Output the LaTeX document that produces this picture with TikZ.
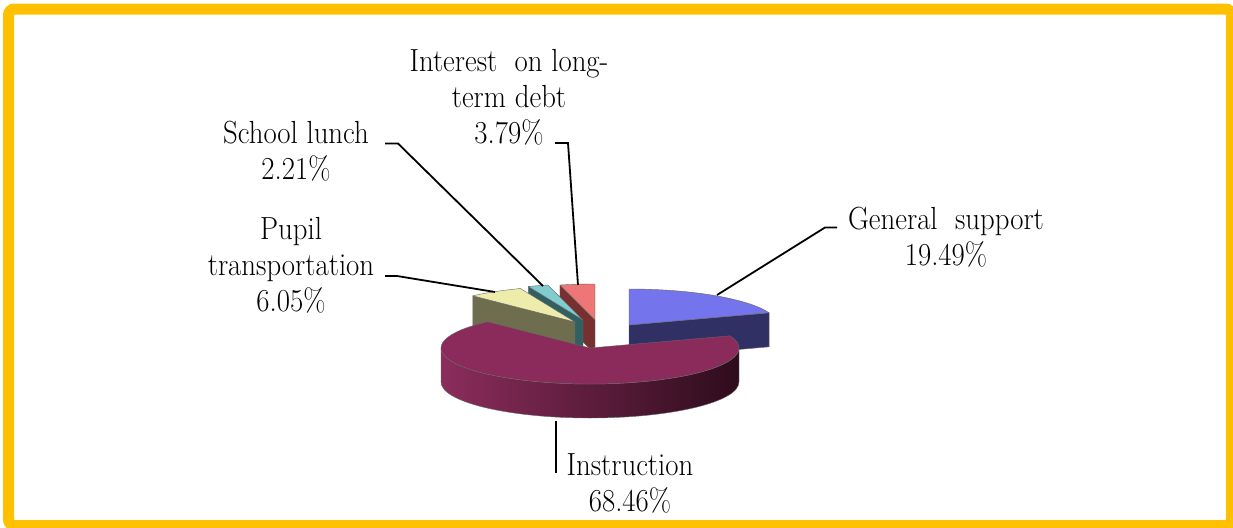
\documentclass[tikz,border=0pt]{standalone}
\usepackage{fontspec}
\setmainfont{Latin Modern Roman}[FakeStretch=0.9]
\usepackage{xcolor}
\usepackage{tikz}
\usetikzlibrary{positioning}
\definecolor{frameorange}{RGB}{255,192,0}
\definecolor{gstop}{RGB}{116,116,236}
\definecolor{gsside}{RGB}{48,48,100}
\definecolor{intop}{RGB}{139,43,91}
\definecolor{inleft}{RGB}{139,45,92}
\definecolor{inmid}{RGB}{112,36,74}
\definecolor{inright}{RGB}{46,12,28}
\definecolor{putop}{RGB}{238,236,170}
\definecolor{puside}{RGB}{110,110,78}
\definecolor{sltop}{RGB}{128,204,206}
\definecolor{slside}{RGB}{48,96,98}
\definecolor{iltop}{RGB}{238,118,118}
\definecolor{ilside}{RGB}{118,48,48}

\begin{document}
\begin{tikzpicture}[x=0.5pt, y=0.5pt,
  lbl/.style={align=center, inner sep=0pt, font=\rmfamily\fontsize{16}{18}\selectfont},
  leader/.style={draw=black, line width=0.9pt},
  slice/.style={draw=black!60, line width=0.2pt, line join=round},
  rim/.style={x radius=149, y radius=36}]

\useasboundingbox (0,0) rectangle (1233,527);
\clip (0,0) rectangle (1233,527);
\draw[frameorange, line width=5.5pt, rounded corners=3pt] (8.5,1.5) rectangle (1231.5,518);

\path[slice, fill=gsside] (629,202) -- ++(19.8:149 and 36) -- ++(0,-34) -- (629,168) -- cycle;
\path[slice, fill=gstop] (629,202) -- ++(90:149 and 36) arc[start angle=90, end angle=19.8, rim] -- cycle;

\path[slice, fill=ilside] (595,207) -- ++(103.6:149 and 36) -- ++(0,-34) -- (595,173) -- cycle;
\path[slice, fill=iltop] (595,207) -- ++(103.6:149 and 36) arc[start angle=103.6, end angle=90, rim] -- cycle;

\path[slice, fill=slside] (583,207) -- ++(111.5:149 and 36) -- ++(0,-34) -- (583,173) -- cycle;
\path[slice, fill=sltop] (583,207) -- ++(111.5:149 and 36) arc[start angle=111.5, end angle=103.6, rim] -- cycle;

\path[slice, fill=puside] (575,205) -- ++(133.3:149 and 36) -- ++(0,-34) -- (575,171) -- cycle;
\path[slice, fill=putop] (575,205) -- ++(133.3:149 and 36) arc[start angle=133.3, end angle=111.5, rim] -- cycle;

\shadedraw[slice, left color=inleft, middle color=inmid, right color=inright] (441,179) arc[start angle=180, end angle=360, rim] -- ++(0,-34) arc[start angle=360, end angle=180, rim] -- cycle;
\path[slice, fill=intop] (590,179) -- ++(19.8:149 and 36) arc[start angle=19.8, end angle=-226.7, rim] -- cycle;

\coordinate (gsTip) at (717,232);
\coordinate (ilTip) at (578,242);
\coordinate (slTip) at (543,241);
\coordinate (puTip) at (495,235);
\coordinate (inTip) at (556,106);

\node[lbl] at (946,289.5) (gsLbl) {General~~support\\19.49\%};
\node[lbl] at (509,430) (ilLbl) {Interest~~on long-\\term debt\\3.79\%};
\node[lbl] at (296,375.5) (slLbl) {School lunch\\2.21\%};
\node[lbl] at (291,262) (puLbl) {Pupil\\transportation\\6.05\%};
\node[lbl] at (630,43.5) (inLbl) {Instruction\\68.46\%};

\draw[leader] ([shift={(-109,10)}]gsLbl.center) -- ++(-12,0) -- (gsTip);
\draw[leader] ([shift={(46,-46)}]ilLbl.center) -- ++(13,0) -- (ilTip);
\draw[leader] ([shift={(89,8)}]slLbl.center) -- ++(13,0) -- (slTip);
\draw[leader] ([shift={(94,-11)}]puLbl.center) -- ++(12,0) -- (puTip);
\draw[leader] ([shift={(-74,11)}]inLbl.center) -- (inTip);

\end{tikzpicture}
\end{document}
